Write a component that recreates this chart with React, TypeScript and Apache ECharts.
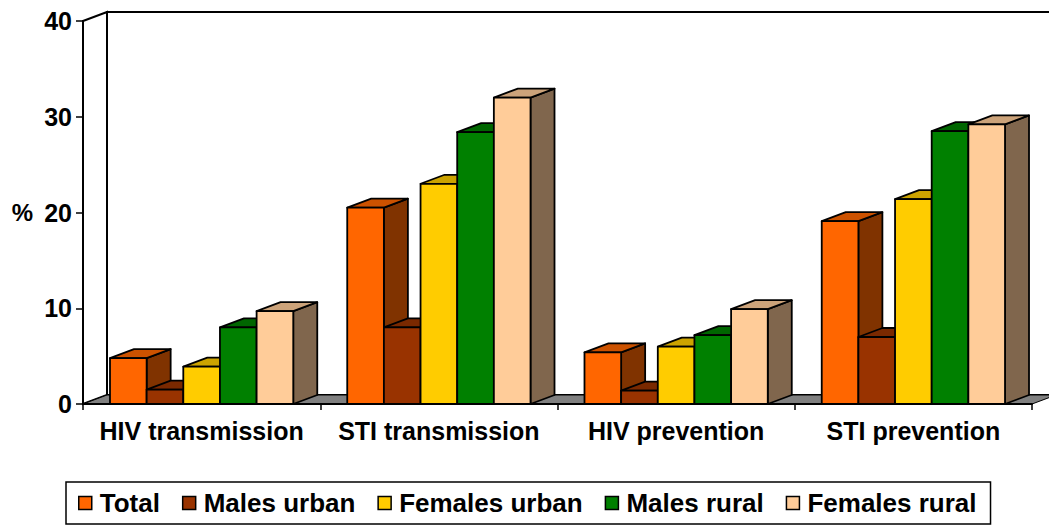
import React, { useEffect, useRef } from "react";
import * as echarts from "echarts";

const categories = ["HIV transmission", "STI transmission", "HIV prevention", "STI prevention"];
const seriesNames = ["Total", "Males urban", "Females urban", "Males rural", "Females rural"];
const total = [4.8, 20.5, 5.4, 19.1];
const malesUrban = [1.5, 8.0, 1.4, 7.0];
const femalesUrban = [3.9, 23.0, 6.0, 21.4];
const malesRural = [8.0, 28.4, 7.2, 28.5];
const femalesRural = [9.7, 32.0, 9.9, 29.2];
const yTicks = [0, 10, 20, 30, 40];

const seriesValues = [total, malesUrban, femalesUrban, malesRural, femalesRural];
const frontColors = ["#FF6600", "#993300", "#FFCC00", "#008000", "#FFCC99"];
const topColors = ["#CC5200", "#7A2900", "#CCA300", "#006600", "#CCA37A"];
const sideColors = ["#803300", "#4D1A00", "#806600", "#004000", "#80664D"];

const DX = 24;
const DY = 9;
const BAR_FRAC = 0.1545;
const FONT = "'Liberation Sans', Arial, Helvetica, sans-serif";

export default function App() {
  const ref = useRef<HTMLDivElement>(null);

  useEffect(() => {
    if (!ref.current) return;
    const chart = echarts.init(ref.current, null, { renderer: "svg" });

    const wallSeries: any = {
      type: "custom",
      silent: true,
      z: 1,
      clip: false,
      data: [[0, 0]],
      encode: { x: 0, y: 1 },
      renderItem: (params: any) => {
        const cs = params.coordSys;
        const x0 = cs.x;
        const x1 = cs.x + cs.width;
        const yT = cs.y;
        const yB = cs.y + cs.height;
        return {
          type: "group",
          children: [
            {
              type: "polygon",
              shape: { points: [[x0 + DX, yT - DY], [x1 + DX, yT - DY], [x1 + DX, yB - DY], [x0 + DX, yB - DY]] },
              style: { fill: "#FFFFFF", stroke: "#000000", lineWidth: 2 },
            },
            {
              type: "polygon",
              shape: { points: [[x0, yT], [x0 + DX, yT - DY], [x0 + DX, yB - DY], [x0, yB]] },
              style: { fill: "#FFFFFF", stroke: "#000000", lineWidth: 2 },
            },
            {
              type: "polygon",
              shape: { points: [[x0, yB], [x0 + DX, yB - DY], [x1 + DX, yB - DY], [x1, yB]] },
              style: { fill: "#808080", stroke: "#000000", lineWidth: 1 },
            },
          ],
        };
      },
    };

    const barSeries = seriesValues.map((vals, k) => ({
      type: "custom",
      name: seriesNames[k],
      z: 2 + k * 0.01,
      clip: false,
      itemStyle: { color: frontColors[k] },
      data: vals.map((v, i) => [i, v]),
      encode: { x: 0, y: 1 },
      renderItem: (params: any, api: any) => {
        const ci = api.value(0);
        const v = api.value(1);
        const top = api.coord([ci, v]);
        const base = api.coord([ci, 0]);
        const catW = api.size([1, 0])[0];
        const bw = catW * BAR_FRAC;
        const xl = top[0] - 2.5 * bw + k * bw;
        const xr = xl + bw;
        const yt = top[1];
        const y0 = base[1];
        const stroke = { stroke: "#000000", lineWidth: 1.8, lineJoin: "round" };
        return {
          type: "group",
          children: [
            {
              type: "polygon",
              shape: { points: [[xr, y0], [xr, yt], [xr + DX, yt - DY], [xr + DX, y0 - DY]] },
              style: { fill: sideColors[k], ...stroke },
            },
            {
              type: "polygon",
              shape: { points: [[xl, yt], [xr, yt], [xr + DX, yt - DY], [xl + DX, yt - DY]] },
              style: { fill: topColors[k], ...stroke },
            },
            {
              type: "polygon",
              shape: { points: [[xl, yt], [xr, yt], [xr, y0], [xl, y0]] },
              style: { fill: frontColors[k], ...stroke },
            },
          ],
        };
      },
    }));

    chart.setOption({
      animation: false,
      backgroundColor: "#FFFFFF",
      grid: { left: 83, right: 17, top: 21, bottom: 122, containLabel: false },
      legend: {
        data: seriesNames,
        top: 482,
        left: 66,
        orient: "horizontal",
        itemWidth: 13,
        itemHeight: 13,
        itemGap: 22,
        icon: "rect",
        padding: [8, 14, 8, 12],
        borderColor: "#000000",
        borderWidth: 1.5,
        itemStyle: { borderColor: "#000000", borderWidth: 1.5 },
        textStyle: { fontFamily: FONT, fontWeight: "bold", fontSize: 26, color: "#000000", padding: [0, 0, 0, 3] },
        selectedMode: false,
      },
      xAxis: {
        type: "category",
        data: categories,
        boundaryGap: true,
        z: 10,
        axisLine: { show: true, lineStyle: { color: "#000000", width: 2 } },
        axisTick: { show: true, interval: 0, length: 6, lineStyle: { color: "#000000", width: 1.5 } },
        axisLabel: {
          interval: 0,
          margin: 14,
          fontFamily: FONT,
          fontWeight: "bold",
          fontSize: 25,
          color: "#000000",
        },
        splitLine: { show: false },
      },
      yAxis: {
        type: "value",
        min: yTicks[0],
        max: yTicks[yTicks.length - 1],
        interval: 10,
        z: 10,
        name: "%",
        nameLocation: "middle",
        nameRotate: 0,
        nameGap: 50,
        nameTextStyle: { fontFamily: FONT, fontWeight: "bold", fontSize: 24, color: "#000000" },
        axisLine: { show: true, lineStyle: { color: "#000000", width: 2 } },
        axisTick: { show: true, length: 7, lineStyle: { color: "#000000", width: 1.5 } },
        axisLabel: {
          margin: 11,
          fontFamily: FONT,
          fontWeight: "bold",
          fontSize: 25,
          color: "#000000",
        },
        splitLine: { show: false },
      },
      series: [wallSeries, ...barSeries],
    });

    return () => {
      chart.dispose();
    };
  }, []);

  return (
    <div
      ref={ref}
      style={{ position: "fixed", left: 0, top: 0, width: 1049, height: 526, background: "#FFFFFF" }}
    />
  );
}
